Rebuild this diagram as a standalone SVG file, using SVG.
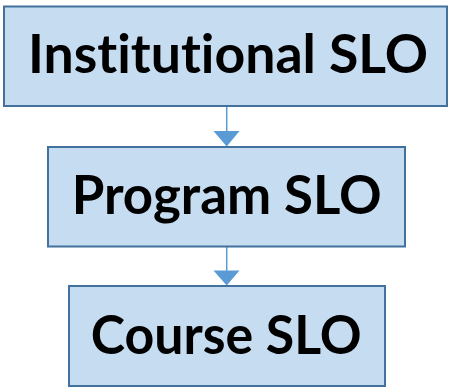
<svg xmlns="http://www.w3.org/2000/svg" width="449" height="391" viewBox="0 0 449 391">
<style>
.box{fill:#c6dcf0;stroke:#41719c;stroke-width:2}
.lbl{font-family:Lato,"Open Sans","Liberation Sans",sans-serif;font-weight:bold;font-size:54px;fill:#000;text-anchor:middle;font-variant-ligatures:none;font-feature-settings:"liga" 0}
.conn{stroke:#5b9bd5;stroke-width:1.5;fill:none}
.head{fill:#5b9bd5}
</style>
<rect width="449" height="391" fill="#fff"/>
<g id="connectors">
<line class="conn" x1="226.7" y1="106" x2="226.7" y2="133"/>
<polygon class="head" points="213.5,131 239.5,131 226.7,146.5"/>
<line class="conn" x1="226.7" y1="247" x2="226.7" y2="272"/>
<polygon class="head" points="213.5,270.5 239.5,270.5 226.7,285.5"/>
</g>
<g id="institutional">
<rect class="box" x="4" y="6.5" width="443" height="99.5"/>
<text class="lbl" x="228" y="72.5" textLength="400" lengthAdjust="spacingAndGlyphs">Institutional SLO</text>
</g>
<g id="program">
<rect class="box" x="48" y="147" width="357" height="99.5"/>
<text class="lbl" x="226.7" y="213.5" textLength="310" lengthAdjust="spacingAndGlyphs">Program SLO</text>
</g>
<g id="course">
<rect class="box" x="69" y="286" width="316" height="100"/>
<text class="lbl" x="226.2" y="353.5" textLength="271" lengthAdjust="spacingAndGlyphs">Course SLO</text>
</g>
</svg>
